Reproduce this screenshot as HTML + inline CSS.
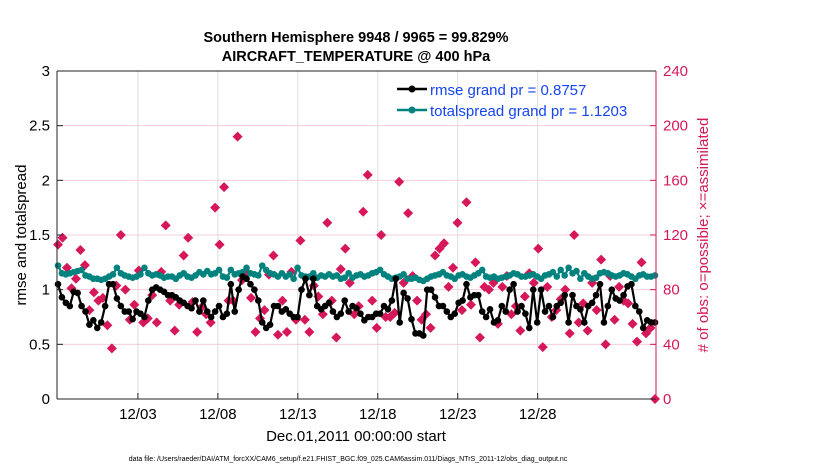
<!DOCTYPE html>
<html><head><meta charset="utf-8"><style>
body{margin:0;background:#fff;}
svg text{font-family:"Liberation Sans",sans-serif;}
</style></head><body>
<svg id="c" width="830" height="470" xmlns="http://www.w3.org/2000/svg">
<rect width="830" height="470" fill="#fff"/>
<g id="grid"></g><g id="marks"></g><g id="axes"></g>
<text x="356" y="42" text-anchor="middle" font-size="14.5" font-weight="bold">Southern Hemisphere 9948 / 9965 = 99.829%</text>
<text x="356" y="61" text-anchor="middle" font-size="14.5" font-weight="bold">AIRCRAFT_TEMPERATURE @ 400 hPa</text>
<text transform="translate(26,235) rotate(-90)" text-anchor="middle" font-size="15">rmse and totalspread</text>
<text transform="translate(708,235) rotate(-90)" text-anchor="middle" font-size="15" fill="#d6175a"># of obs: o=possible; ×=assimilated</text>
<text x="356" y="441" text-anchor="middle" font-size="15">Dec.01,2011 00:00:00 start</text>
<text x="348" y="461" text-anchor="middle" font-size="7">data file: /Users/raeder/DAI/ATM_forcXX/CAM6_setup/f.e21.FHIST_BGC.f09_025.CAM6assim.011/Diags_NTrS_2011-12/obs_diag_output.nc</text>
<g>
<line x1="397" y1="89" x2="427" y2="89" stroke="#000" stroke-width="2.5"/><circle cx="412" cy="89" r="3.5" fill="#000"/>
<text x="430" y="95" font-size="15" fill="#1546f0">rmse grand pr = 0.8757</text>
<line x1="397" y1="110" x2="427" y2="110" stroke="#00827f" stroke-width="2.5"/><circle cx="412" cy="110" r="3.5" fill="#00827f"/>
<text x="430" y="116" font-size="15" fill="#1546f0">totalspread grand pr = 1.1203</text>
</g>
</svg>
<script>
const xTickLabels=["12/03","12/08","12/13","12/18","12/23","12/28"];
const xTickDays=[2,7,12,17,22,27];
const yTicks=[0,0.5,1,1.5,2,2.5,3];
const yTickLabels=["0","0.5","1","1.5","2","2.5","3"];
const rTicks=[0,40,80,120,160,200,240];
const rmse=[1.05,0.93,0.88,0.85,0.98,0.97,0.85,0.8,0.68,0.72,0.65,0.7,0.85,1.05,1.05,0.92,0.85,0.8,0.8,0.73,0.8,0.78,0.75,0.9,1.0,1.02,1.0,0.98,0.95,0.95,0.93,0.9,0.88,0.85,0.83,0.9,0.8,0.9,0.8,0.75,0.8,0.85,0.75,0.78,1.05,0.8,1.0,1.12,1.1,1.05,1.0,0.9,0.7,0.65,0.68,0.85,0.85,0.8,0.82,0.78,0.75,0.75,1.0,1.1,0.95,1.1,0.85,0.82,0.85,0.88,0.8,0.75,0.78,0.9,0.8,0.85,0.83,0.78,0.72,0.75,0.75,0.78,0.78,0.85,0.82,0.9,1.1,0.7,0.97,0.92,0.73,0.6,0.6,0.58,1.0,1.0,0.93,0.85,0.85,0.8,0.75,0.78,0.88,0.9,1.05,0.93,0.95,0.95,0.8,0.75,0.82,0.7,0.72,0.85,0.8,1.0,1.05,0.8,0.85,0.78,0.65,1.0,0.7,1.0,0.8,0.85,0.75,0.85,0.88,0.95,0.7,0.95,0.85,0.82,0.7,0.85,0.88,0.95,1.05,0.7,0.85,1.0,0.92,0.9,0.95,1.03,1.05,0.85,0.8,0.65,0.72,0.7,0.7];
const spread=[1.22,1.15,1.14,1.15,1.16,1.17,1.18,1.13,1.12,1.1,1.1,1.09,1.1,1.12,1.14,1.2,1.15,1.13,1.12,1.11,1.12,1.14,1.2,1.15,1.13,1.14,1.13,1.11,1.12,1.12,1.1,1.13,1.15,1.12,1.11,1.13,1.16,1.14,1.17,1.14,1.15,1.18,1.12,1.11,1.18,1.14,1.15,1.16,1.2,1.15,1.14,1.13,1.22,1.18,1.15,1.14,1.12,1.15,1.12,1.14,1.1,1.2,1.13,1.12,1.12,1.15,1.11,1.13,1.12,1.14,1.12,1.13,1.1,1.11,1.15,1.11,1.13,1.14,1.12,1.13,1.15,1.16,1.18,1.14,1.12,1.1,1.11,1.12,1.14,1.1,1.1,1.11,1.09,1.08,1.1,1.12,1.13,1.14,1.16,1.13,1.12,1.1,1.13,1.14,1.12,1.11,1.13,1.15,1.18,1.12,1.11,1.12,1.1,1.11,1.12,1.13,1.15,1.14,1.12,1.12,1.13,1.14,1.12,1.1,1.13,1.14,1.16,1.12,1.18,1.13,1.2,1.15,1.17,1.1,1.15,1.12,1.1,1.11,1.15,1.16,1.15,1.13,1.12,1.13,1.15,1.14,1.12,1.1,1.13,1.14,1.12,1.12,1.13];
const obs=[113,118,96,81,88,109,98,65,78,72,74,54,37,83,120,80,58,69,94,56,59,76,56,93,127,72,50,69,105,118,71,49,67,62,56,140,113,155,72,72,192,87,93,74,49,59,65,91,105,47,72,49,93,58,116,58,49,83,75,62,129,72,45,95,110,85,62,68,137,164,72,52,120,60,60,63,159,85,136,90,72,58,62,52,105,110,114,82,96,129,65,144,69,100,45,82,80,85,55,82,90,62,68,50,75,92,85,110,38,82,60,65,73,80,48,120,56,70,50,85,65,102,40,90,58,82,72,70,55,42,100,48,52,0];
const L=57,R=656,T=71,B=399;
const D0=-3.06,D1=34.4; // axis day domain (Dec01 = 0)
const ns="http://www.w3.org/2000/svg";
function X(d){return L+(R-L)*(d-D0)/(D1-D0);}
function Y(v){return B-(B-T)*v/3;}
function YR(v){return B-(B-T)*v/240;}
function xi(i,n){return L+1+(R-L-2)*i/(n-1);}
function mk(tag,attrs,parent){const e=document.createElementNS(ns,tag);for(const k in attrs)e.setAttribute(k,attrs[k]);parent.appendChild(e);return e;}
const grid=document.getElementById('grid'),marks=document.getElementById('marks'),axes=document.getElementById('axes');
yTicks.forEach((v,i)=>{
 if(i>0&&i<yTicks.length-1){const g=mk('line',{x1:L,x2:R,y1:Y(v),y2:Y(v),stroke:'#f5cdda','stroke-width':1},grid);
 
 }
 const t=mk('text',{x:L-7,y:Y(v)+5,'text-anchor':'end','font-size':15},axes);t.textContent=yTickLabels[i];
 
 
 mk('line',{x1:L,x2:L+6,y1:Y(v),y2:Y(v),stroke:'#222'},axes);
});
rTicks.forEach(v=>{
 const t=mk('text',{x:R+7,y:YR(v)+5,'font-size':15,fill:'#d6175a'},axes);t.textContent=v;
 
 
 mk('line',{x1:R-6,x2:R,y1:YR(v),y2:YR(v),stroke:'#d6175a'},axes);
});
xTickDays.forEach((d,i)=>{
 const g=mk('line',{x1:X(d),x2:X(d),y1:T,y2:B,stroke:'#dcdcdc'},grid);
 
 
 mk('line',{x1:X(d),x2:X(d),y1:B,y2:B-6,stroke:'#222'},axes);
 const t=mk('text',{x:X(d),y:B+20,'text-anchor':'middle','font-size':15},axes);t.textContent=xTickLabels[i];
 
 
});
mk('line',{x1:L,x2:R,y1:T,y2:T,stroke:'#222'},axes);
mk('line',{x1:L,x2:R,y1:B,y2:B,stroke:'#222'},axes);
mk('line',{x1:L,x2:L,y1:T,y2:B,stroke:'#222'},axes);
mk('line',{x1:R,x2:R,y1:T,y2:B,stroke:'#d6175a'},axes);
obs.forEach((v,i)=>{
 const x=xi(i,obs.length),y=YR(v);
 const p=mk('path',{d:`M${x-5},${y}L${x},${y-5}L${x+5},${y}L${x},${y+5}Z`,fill:'#d6175a'},marks);
 
 
});
function series(arr,col,name){
 const pts=arr.map((v,i)=>xi(i,arr.length).toFixed(1)+','+Y(v).toFixed(1)).join(' ');
 const pl=mk('polyline',{points:pts,fill:'none',stroke:col,'stroke-width':2.2},marks);
 
 
 arr.forEach((v,i)=>{const c=mk('circle',{cx:xi(i,arr.length),cy:Y(v),r:3.3,fill:col},marks);
 
 });
}
series(spread,'#00827f','totalspread');
series(rmse,'#000','rmse');
</script>
</body></html>
